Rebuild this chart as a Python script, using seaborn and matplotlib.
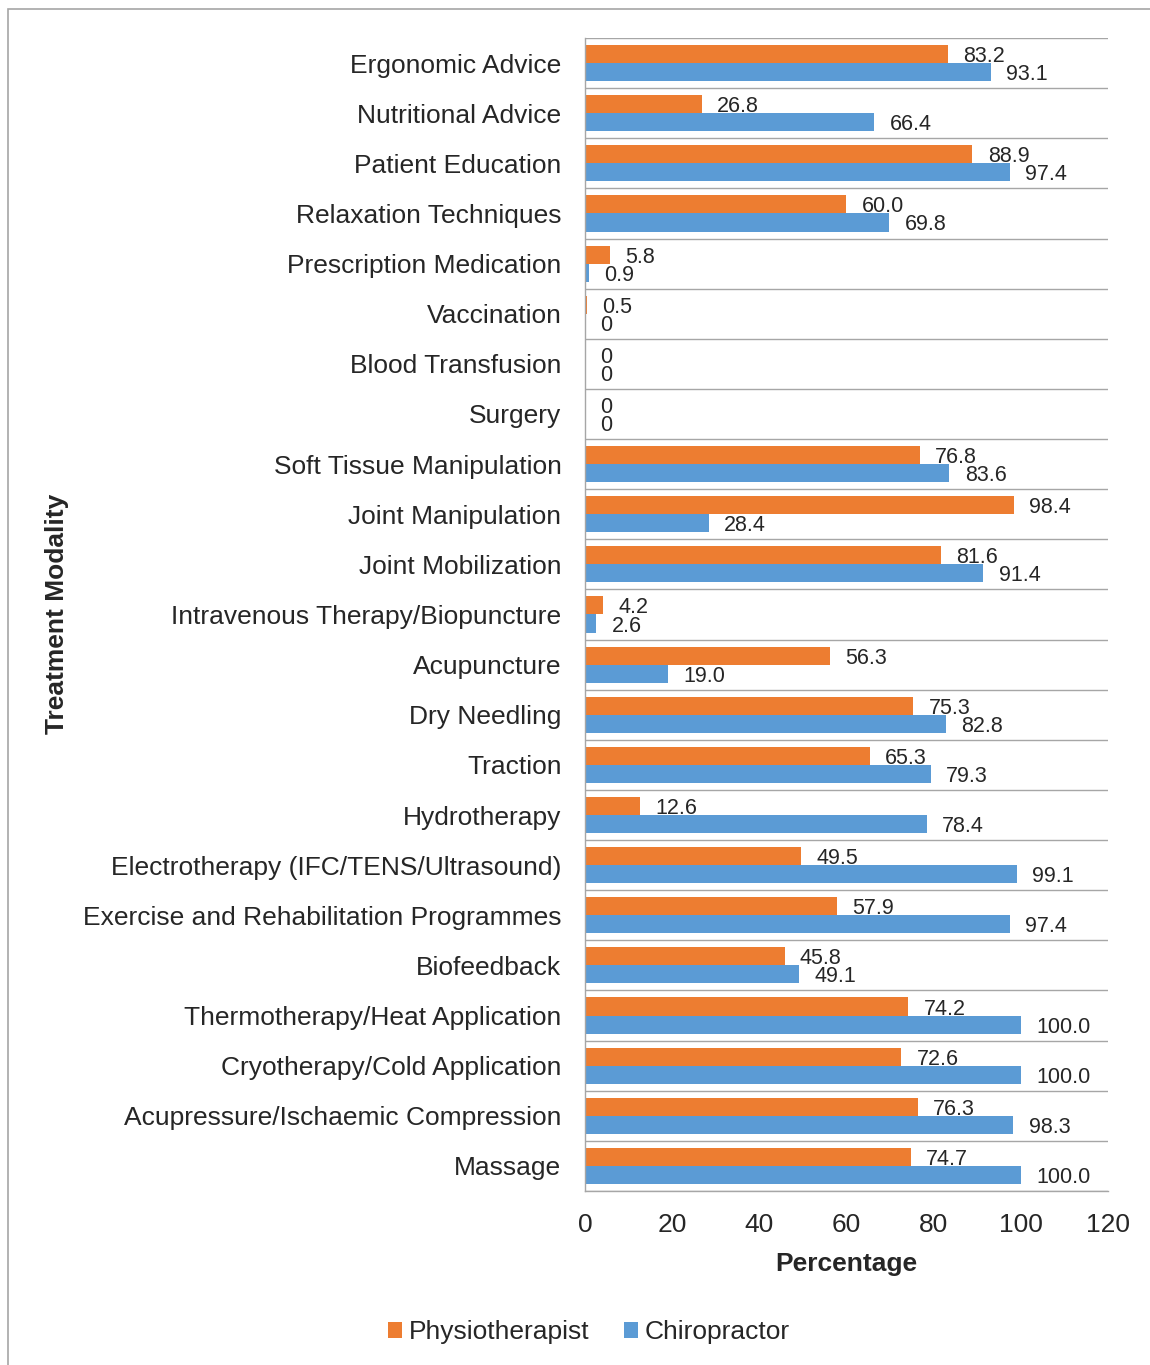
import numpy as np
import pandas as pd
import matplotlib
matplotlib.use("Agg")
import matplotlib.pyplot as plt
from matplotlib.patches import Rectangle
from matplotlib.ticker import FixedLocator, NullFormatter
import seaborn as sns

categories = [
    "Ergonomic Advice", "Nutritional Advice", "Patient Education",
    "Relaxation Techniques", "Prescription Medication", "Vaccination",
    "Blood Transfusion", "Surgery", "Soft Tissue Manipulation",
    "Joint Manipulation", "Joint Mobilization",
    "Intravenous Therapy/Biopuncture", "Acupuncture", "Dry Needling",
    "Traction", "Hydrotherapy", "Electrotherapy (IFC/TENS/Ultrasound)",
    "Exercise and Rehabilitation Programmes", "Biofeedback",
    "Thermotherapy/Heat Application", "Cryotherapy/Cold Application",
    "Acupressure/Ischaemic Compression", "Massage",
]
physio = [83.2, 26.8, 88.9, 60.0, 5.8, 0.5, 0, 0, 76.8, 98.4, 81.6, 4.2,
          56.3, 75.3, 65.3, 12.6, 49.5, 57.9, 45.8, 74.2, 72.6, 76.3, 74.7]
chiro = [93.1, 66.4, 97.4, 69.8, 0.9, 0, 0, 0, 83.6, 28.4, 91.4, 2.6,
         19.0, 82.8, 79.3, 78.4, 99.1, 97.4, 49.1, 100.0, 100.0, 98.3, 100.0]
series_names = ["Physiotherapist", "Chiropractor"]
colors = {"Physiotherapist": "#ED7D31", "Chiropractor": "#5B9BD5"}
x_ticks = [0, 20, 40, 60, 80, 100, 120]

df = pd.DataFrame({
    "Treatment Modality": categories * 2,
    "Percentage": physio + chiro,
    "Group": [series_names[0]] * len(categories) + [series_names[1]] * len(categories),
})

sns.set_style("white")
plt.rcParams["font.family"] = ["Liberation Sans", "DejaVu Sans"]

W, H = 1150, 1365
fig = plt.figure(figsize=(W / 100, H / 100), dpi=100)
ax = fig.add_axes([585 / W, 1 - 1191 / H, (1108 - 585) / W, (1191 - 38) / H])

sns.barplot(data=df, y="Treatment Modality", x="Percentage", hue="Group",
            hue_order=series_names, order=categories, palette=colors,
            orient="h", width=0.72, gap=0, saturation=1, ax=ax,
            edgecolor="none", linewidth=0)

grid_col = "#A6A6A6"
n = len(categories)
ax.set_xlim(0, 120)
ax.set_ylim(n - 0.5, -0.5)
ax.set_xticks(x_ticks)
ax.set_xticklabels([str(t) for t in x_ticks])
ax.yaxis.set_minor_locator(FixedLocator(np.arange(-0.5, n, 1.0)))
ax.yaxis.set_minor_formatter(NullFormatter())
ax.grid(False)
ax.grid(True, which="minor", axis="y", color=grid_col, linewidth=1.0)
ax.set_axisbelow(True)
ax.tick_params(axis="both", which="both", length=0)
ax.tick_params(axis="y", which="major", labelsize=19, pad=17)
ax.tick_params(axis="x", which="major", labelsize=19, pad=16)
for side in ["top", "right"]:
    ax.spines[side].set_visible(False)
ax.spines["left"].set_color(grid_col)
ax.spines["bottom"].set_color(grid_col)
ax.spines["left"].set_linewidth(1.0)
ax.spines["bottom"].set_linewidth(1.0)

ax.set_xlabel("Percentage", fontsize=19, fontweight="bold", labelpad=11)
ax.set_ylabel("")
fig.text(57 / W, 1 - 614 / H, "Treatment Modality", rotation=90,
         fontsize=19, fontweight="bold", ha="center", va="center")

def fmt(v):
    return "0" if v == 0 else f"{v:.1f}"

for cont, vals in zip(ax.containers, [physio, chiro]):
    anns = ax.bar_label(cont, labels=[fmt(v) for v in vals], padding=11, fontsize=15.5)
    for a in anns:
        a.xyann = (11, -1.8)

handles, labels = ax.get_legend_handles_labels()
if ax.legend_ is not None:
    ax.legend_.remove()
fig.legend(handles, labels, loc="center", bbox_to_anchor=(589 / W, 1 - 1332 / H),
           ncol=2, frameon=False, fontsize=19, handlelength=0.55, handleheight=0.55,
           handletextpad=0.25, columnspacing=1.3)

fig.patches.append(Rectangle((8 / W, -0.02), 1.2, (H - 9) / H + 0.02,
                             transform=fig.transFigure, fill=False,
                             edgecolor=grid_col, linewidth=1.2, clip_on=False))

fig.savefig("out.png", dpi=100)
